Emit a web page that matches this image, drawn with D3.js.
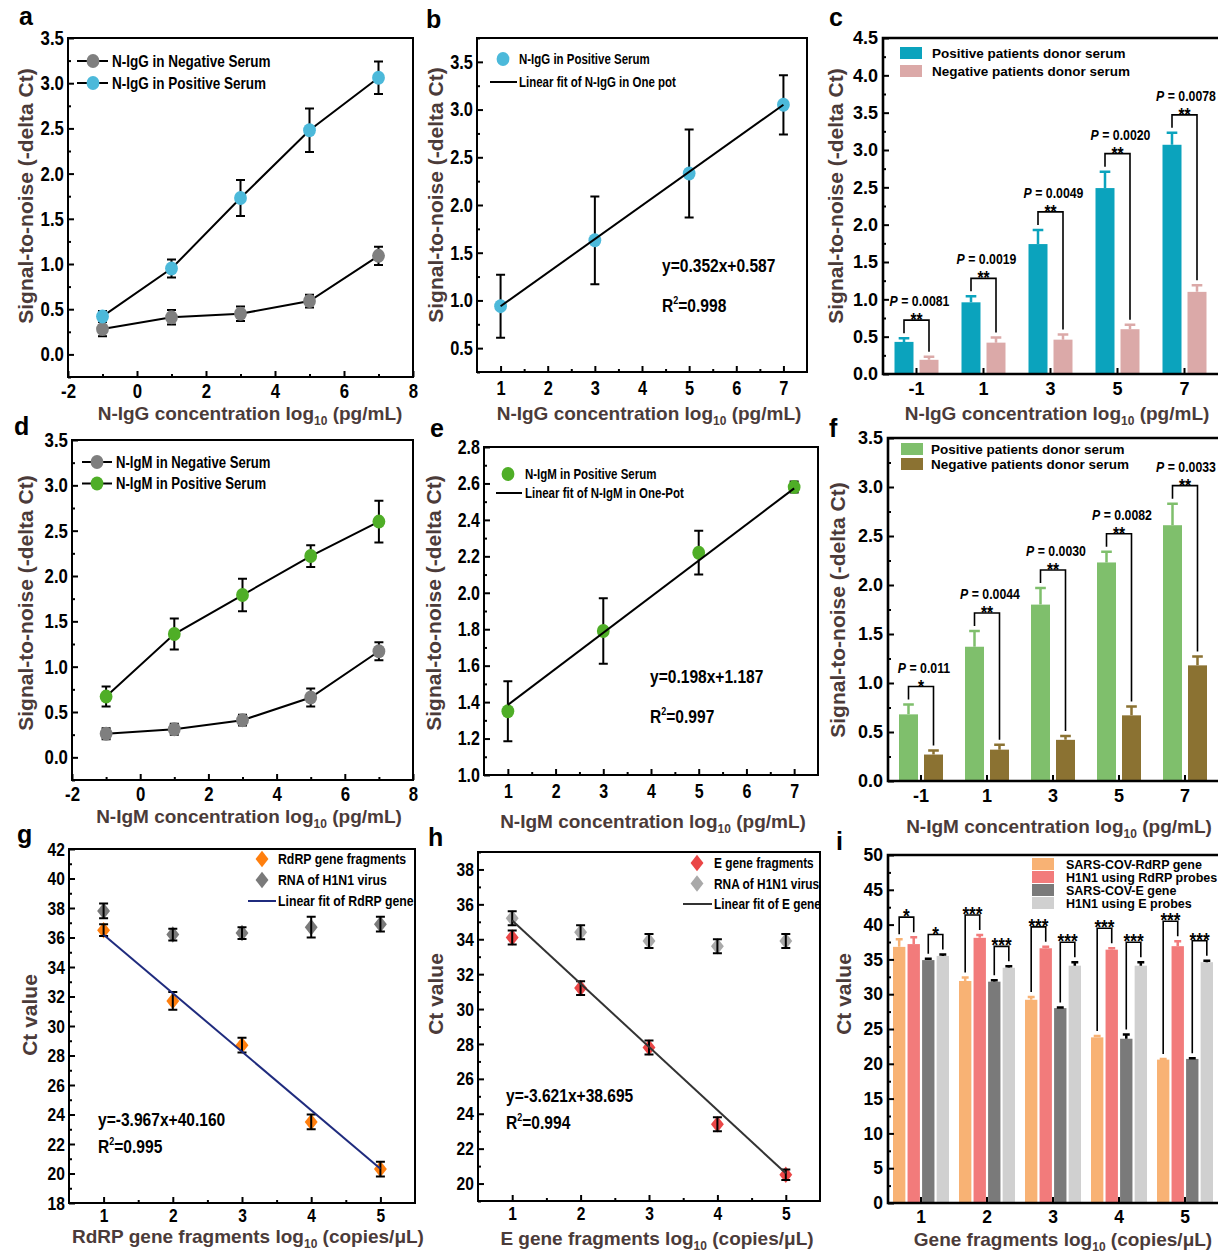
<!DOCTYPE html>
<html>
<head>
<meta charset="utf-8">
<script src="https://cdn.jsdelivr.net/npm/d3@7"></script>
<style>
  body { margin: 0; background: #fff; }
  text { font-family: "Liberation Sans", Arial, sans-serif; font-weight: bold; }
</style>
</head>
<body>
<svg id="fig" width="1218" height="1254"></svg>
<script>
// ---------- data ----------
// a / d : serum titration, -delta Ct
var igConc = [-1, 1, 3, 5, 7];
var iggNeg = [0.28, 0.41, 0.45, 0.59, 1.09];
var iggNegErr = [0.08, 0.08, 0.08, 0.07, 0.10];
var iggPos = [0.42, 0.95, 1.73, 2.48, 3.06];
var iggPosErr = [0.06, 0.10, 0.20, 0.24, 0.18];
var igmNeg = [0.26, 0.31, 0.41, 0.66, 1.17];
var igmNegErr = [0.06, 0.06, 0.06, 0.10, 0.10];
var igmPos = [0.67, 1.36, 1.79, 2.22, 2.60];
var igmPosErr = [0.11, 0.17, 0.18, 0.12, 0.23];

// b / e : linear fits
var fitConc = [1, 3, 5, 7];
var iggFitVal = [0.94, 1.63, 2.33, 3.05];
var iggFitErr = [0.33, 0.46, 0.46, 0.31];
var iggCoef = [0.352, 0.587];
var igmFitVal = [1.35, 1.79, 2.22, 2.58];
var igmFitErr = [0.165, 0.18, 0.12, 0.03];
var igmCoef = [0.198, 1.187];

// c / f : bar comparisons
var barCats = ["-1", "1", "3", "5", "7"];
var iggBarPos = [0.43, 0.96, 1.74, 2.49, 3.07];
var iggBarPosErr = [0.05, 0.08, 0.19, 0.22, 0.16];
var iggBarNeg = [0.19, 0.42, 0.46, 0.60, 1.10];
var iggBarNegErr = [0.04, 0.07, 0.07, 0.06, 0.09];
var iggP = ["0.0081", "0.0019", "0.0049", "0.0020", "0.0078"];
var iggStars = ["**", "**", "**", "**", "**"];
var igmBarPos = [0.68, 1.37, 1.80, 2.23, 2.61];
var igmBarPosErr = [0.10, 0.16, 0.17, 0.11, 0.22];
var igmBarNeg = [0.27, 0.32, 0.42, 0.67, 1.18];
var igmBarNegErr = [0.04, 0.05, 0.04, 0.09, 0.09];
var igmP = ["0.011", "0.0044", "0.0030", "0.0082", "0.0033"];
var igmStars = ["*", "**", "**", "**", "**"];

// g / h : Ct values
var geneConc = [1, 2, 3, 4, 5];
var rdrpCt = [36.5, 31.7, 28.7, 23.5, 20.3];
var rdrpErr = [0.4, 0.6, 0.5, 0.5, 0.5];
var h1n1RCt = [37.8, 36.2, 36.3, 36.7, 36.9];
var h1n1RErr = [0.5, 0.4, 0.4, 0.7, 0.5];
var rdrpCoef = [-3.967, 40.160];
var eCt = [34.1, 31.2, 27.8, 23.4, 20.5];
var eErr = [0.4, 0.4, 0.4, 0.4, 0.3];
var h1n1ECt = [35.2, 34.4, 33.9, 33.6, 33.9];
var h1n1EErr = [0.4, 0.4, 0.4, 0.4, 0.4];
var eCoef = [-3.621, 38.695];

// i : specificity bars
var geneCats = ["1", "2", "3", "4", "5"];
var iNames = ["SARS-COV-RdRP gene", "H1N1 using RdRP probes", "SARS-COV-E gene", "H1N1 using E probes"];
var iRdrp = [36.8, 31.9, 29.2, 23.8, 20.6];
var iRdrpErr = [1.1, 0.5, 0.4, 0.2, 0.1];
var iH1R = [37.2, 38.1, 36.6, 36.4, 36.9];
var iH1RErr = [1.0, 0.4, 0.2, 0.2, 0.7];
var iE = [34.9, 31.8, 28.0, 23.6, 20.7];
var iEErr = [0.2, 0.2, 0.1, 0.6, 0.1];
var iH1E = [35.5, 33.8, 34.1, 34.1, 34.6];
var iH1EErr = [0.2, 0.2, 0.5, 0.5, 0.2];
var iStarsR = ["*", "***", "***", "***", "***"];
var iStarsE = ["*", "***", "***", "***", "***"];

// tick values
var tickSN = [0, 0.5, 1.0, 1.5, 2.0, 2.5, 3.0, 3.5];
var tickSNb = [0.5, 1.0, 1.5, 2.0, 2.5, 3.0, 3.5];
var tickSNc = [0, 0.5, 1.0, 1.5, 2.0, 2.5, 3.0, 3.5, 4.0, 4.5];
var tickSNe = [1.0, 1.2, 1.4, 1.6, 1.8, 2.0, 2.2, 2.4, 2.6, 2.8];
var tickConcA = [-2, 0, 2, 4, 6, 8];
var tickConcB = [1, 2, 3, 4, 5, 6, 7];
var tickCtG = [18, 20, 22, 24, 26, 28, 30, 32, 34, 36, 38, 40, 42];
var tickCtH = [20, 22, 24, 26, 28, 30, 32, 34, 36, 38];
var tickCtI = [0, 5, 10, 15, 20, 25, 30, 35, 40, 45, 50];

// ---------- drawing ----------
var svg = d3.select("#fig");
svg.append("rect").attr("width", 1218).attr("height", 1254).attr("fill", "#fff");

var NARROW = 0.82;
var TITLE = "#4b3b39";
var f1 = function (d) { return d.toFixed(1); };
var f0 = function (d) { return String(d); };

var diamond = {
  draw: function (ctx, size) {
    var r = Math.sqrt(size);
    ctx.moveTo(0, -0.55 * r);
    ctx.lineTo(0.43 * r, 0);
    ctx.lineTo(0, 0.55 * r);
    ctx.lineTo(-0.43 * r, 0);
    ctx.closePath();
  }
};

function narrowText(g, x, y, str, size, anchor) {
  return g.append("text")
    .attr("transform", "translate(" + x + "," + y + ") scale(" + NARROW + ",1)")
    .attr("text-anchor", anchor || "start")
    .style("font-size", size + "px")
    .text(str);
}

function marker(g, cx, cy, shape, color) {
  if (shape == "diamond") {
    g.append("path").attr("transform", "translate(" + cx + "," + cy + ")")
      .attr("d", d3.symbol().type(diamond).size(225)()).attr("fill", color);
  } else {
    g.append("ellipse").attr("cx", cx).attr("cy", cy).attr("rx", 6.4).attr("ry", 7).attr("fill", color);
  }
}

function drawAxes(g, x, y, o) {
  var yMaj = g.append("g").attr("transform", "translate(" + o.x0 + ",0)")
    .call(d3.axisLeft(y).tickValues(o.yTicks).tickFormat(o.yFmt).tickSizeInner(-6).tickSizeOuter(0).tickPadding(o.yPad || 5));
  var xMaj = g.append("g").attr("transform", "translate(0," + o.y1 + ")")
    .call(d3.axisBottom(x).tickValues(o.xTicks).tickFormat(o.xFmt).tickSizeInner(-6).tickSizeOuter(0).tickPadding(o.xPad || 9));
  var all = [yMaj, xMaj];
  if (o.yMinor) all.push(g.append("g").attr("transform", "translate(" + o.x0 + ",0)")
    .call(d3.axisLeft(y).tickValues(o.yMinor).tickFormat("").tickSizeInner(-3).tickSizeOuter(0)));
  if (o.xMinor) all.push(g.append("g").attr("transform", "translate(0," + o.y1 + ")")
    .call(d3.axisBottom(x).tickValues(o.xMinor).tickFormat("").tickSizeInner(-3).tickSizeOuter(0)));
  all.forEach(function (a) {
    a.select(".domain").remove();
    a.selectAll(".tick line").attr("stroke", "#000").attr("stroke-width", 2);
  });
  [yMaj, xMaj].forEach(function (a) {
    var t = a.selectAll(".tick text").attr("fill", "#000").style("font-size", o.tickSize + "px");
    if (o.narrow) t.attr("transform", "scale(" + NARROW + ",1)");
  });
}

function titles(g, o) {
  g.append("text").attr("transform", "translate(" + o.yt[0] + "," + o.yt[1] + ") rotate(-90)")
    .attr("text-anchor", "middle").attr("fill", TITLE).style("font-size", "21px").text(o.yLabel);
  var t = g.append("text").attr("x", o.xt[0]).attr("y", o.xt[1]).attr("text-anchor", "middle")
    .attr("fill", TITLE).style("font-size", "19px");
  t.append("tspan").text(o.xLabel[0]);
  t.append("tspan").attr("dy", 5).style("font-size", "12px").text("10");
  t.append("tspan").attr("dy", -5).text(o.xLabel[1]);
  g.append("text").attr("x", o.letter[1]).attr("y", o.letter[2]).attr("fill", "#000")
    .style("font-size", "25px").text(o.letter[0]);
}

function errBars(g, xs, vals, errs, x, y, cap, color, sw) {
  vals.forEach(function (v, i) {
    var cx = x(xs[i]), lo = y(v - errs[i]), hi = y(v + errs[i]);
    g.append("path")
      .attr("d", "M" + cx + "," + lo + "V" + hi + "M" + (cx - cap) + "," + hi + "H" + (cx + cap) + "M" + (cx - cap) + "," + lo + "H" + (cx + cap))
      .attr("stroke", color).attr("stroke-width", sw).attr("fill", "none");
  });
}

function xyPanel(o) {
  var g = svg.append("g");
  var x = d3.scaleLinear().domain(o.xDom).range([o.x0, o.x1]);
  var y = d3.scaleLinear().domain(o.yDom).range([o.y1, o.y0]);
  o.narrow = true;
  drawAxes(g, x, y, o);

  o.series.forEach(function (s) {
    if (!s.line) return;
    g.append("path").datum(s.vals)
      .attr("d", d3.line().x(function (d, i) { return x(o.xs[i]); }).y(function (d) { return y(d); }))
      .attr("fill", "none").attr("stroke", "#000").attr("stroke-width", 2);
  });
  o.series.forEach(function (s) {
    if (!o.errOnTop) errBars(g, o.xs, s.vals, s.errs, x, y, 4.5, "#000", 2);
    s.vals.forEach(function (v, i) { marker(g, x(o.xs[i]), y(v), s.shape, s.color); });
    if (o.errOnTop) errBars(g, o.xs, s.vals, s.errs, x, y, 4.5, "#000", 2);
  });
  if (o.fit) {
    var f = o.fit;
    g.append("line")
      .attr("x1", x(f.from)).attr("y1", y(f.coef[0] * f.from + f.coef[1]))
      .attr("x2", x(f.to)).attr("y2", y(f.coef[0] * f.to + f.coef[1]))
      .attr("stroke", f.color).attr("stroke-width", 2);
  }

  // legend
  var L = o.legend;
  L.items.forEach(function (it, k) {
    var ly = L.y + k * L.dy;
    if (it.line) {
      g.append("line").attr("x1", L.lx0).attr("x2", L.lx1).attr("y1", ly).attr("y2", ly)
        .attr("stroke", it.lineColor || "#000").attr("stroke-width", 2);
    }
    if (it.shape) marker(g, L.mx, ly, it.shape, it.color);
    narrowText(g, L.tx, ly + L.size * 0.36, it.label, L.size);
  });

  if (o.eq) {
    narrowText(g, o.eq.x, o.eq.y1, o.eq.text, 19);
    var r = narrowText(g, o.eq.x, o.eq.y2, "R", 19);
    r.append("tspan").attr("dy", -8).style("font-size", "11px").text("2");
    r.append("tspan").attr("dy", 8).text("=" + o.eq.r2);
  }

  g.append("rect").attr("x", o.x0).attr("y", o.y0).attr("width", o.x1 - o.x0).attr("height", o.y1 - o.y0)
    .attr("fill", "none").attr("stroke", "#000").attr("stroke-width", 2);
  titles(g, o);
}

function barPanel(o) {
  var g = svg.append("g");
  var x = d3.scaleBand().domain(o.cats).range([o.x0, 1218]);
  var inner = d3.scaleBand().domain(d3.range(o.series.length))
    .range([-o.groupW / 2, o.groupW / 2]).paddingInner(o.pad);
  var y = d3.scaleLinear().domain(o.yDom).range([o.y1, o.y0]);
  var bw = inner.bandwidth();
  function bx(i, si) { return x(o.cats[i]) + x.bandwidth() / 2 + inner(si); }

  o.series.forEach(function (s, si) {
    g.selectAll(null).data(s.vals).enter().append("rect")
      .attr("x", function (d, i) { return bx(i, si); })
      .attr("width", bw)
      .attr("y", function (d) { return y(d); })
      .attr("height", function (d) { return y(0) - y(d); })
      .attr("fill", s.color);
    s.vals.forEach(function (v, i) {
      var cx = bx(i, si) + bw / 2, top = y(v + s.errs[i]);
      g.append("path").attr("d", "M" + cx + "," + y(v) + "V" + top + "M" + (cx - bw * 0.28) + "," + top + "H" + (cx + bw * 0.28))
        .attr("stroke", s.errColor || s.color).attr("stroke-width", 2.5).attr("fill", "none");
    });
  });

  o.tickSize = o.tickSize || 18;
  o.xTicks = o.cats;
  o.xFmt = f0;
  o.xPad = 8;
  drawAxes(g, x, y, o);

  // significance brackets
  o.pairs.forEach(function (pr) {
    var A = o.series[pr.a], B = o.series[pr.b];
    o.cats.forEach(function (c, i) {
      var ax = bx(i, pr.a) + bw / 2, bxx = bx(i, pr.b) + bw / 2;
      var ta = y(A.vals[i] + A.errs[i]), tb = y(B.vals[i] + B.errs[i]);
      var by = Math.min(ta, tb) - o.brOff;
      g.append("path").attr("d", "M" + ax + "," + (ta - 5) + "V" + by + "H" + bxx + "V" + (tb - 5))
        .attr("stroke", "#000").attr("stroke-width", 1.6).attr("fill", "none");
      var mid = (ax + bxx) / 2;
      narrowText(g, mid, by + 6, pr.stars[i], o.starSize || 19, "middle");
      if (pr.p) {
        var t = narrowText(g, Math.min(mid + 3, 1186), by - 14, "", 15, "middle");
        t.append("tspan").style("font-style", "italic").text("P");
        t.append("tspan").text(" = " + pr.p[i]);
      }
    });
  });

  // legend
  var L = o.legend;
  o.series.forEach(function (s, k) {
    var ly = L.y + k * L.dy;
    g.append("rect").attr("x", L.x).attr("y", ly - L.h / 2).attr("width", 22).attr("height", L.h).attr("fill", s.color);
    g.append("text").attr("x", L.tx).attr("y", ly + L.size * 0.36).style("font-size", L.size + "px").text(s.name);
  });

  g.append("path").attr("d", "M1225," + o.y0 + "H" + o.x0 + "V" + o.y1 + "H1225")
    .attr("fill", "none").attr("stroke", "#000").attr("stroke-width", 2.6);
  titles(g, o);
}

function minors(a, b, step, skip) {
  return d3.range(a, b + 1e-9, step).filter(function (v) {
    return Math.abs(v / skip - Math.round(v / skip)) > 1e-6;
  });
}

// a
xyPanel({
  x0: 68, x1: 413, y0: 38, y1: 377, xDom: [-2, 8], yDom: [-0.25, 3.5], tickSize: 20.5, xPad: 6,
  xTicks: tickConcA, xMinor: minors(-1, 7, 1, 2), yTicks: tickSN, yMinor: minors(-0.25, 3.25, 0.25, 0.5),
  xFmt: f0, yFmt: f1, xs: igConc,
  series: [
    { vals: iggNeg, errs: iggNegErr, color: "#7f7f7f", shape: "circle", line: true },
    { vals: iggPos, errs: iggPosErr, color: "#4cb9da", shape: "circle", line: true }
  ],
  legend: { lx0: 77, lx1: 108, mx: 93, tx: 112, y: 61, dy: 22, size: 16.5, items: [
    { line: true, shape: "circle", color: "#7f7f7f", label: "N-IgG in Negative Serum" },
    { line: true, shape: "circle", color: "#4cb9da", label: "N-IgG in Positive Serum" }] },
  yLabel: "Signal-to-noise (-delta Ct)", yt: [33, 196],
  xLabel: ["N-IgG concentration log", " (pg/mL)"], xt: [250, 420], letter: ["a", 19, 25]
});

// b
xyPanel({
  x0: 477, x1: 807, y0: 38, y1: 372, xDom: [0.5, 7.5], yDom: [0.25, 3.75], tickSize: 20,
  xTicks: tickConcB, xMinor: minors(1.5, 6.5, 0.5, 1), yTicks: tickSNb, yMinor: minors(0.25, 3.75, 0.25, 0.5),
  xFmt: f0, yFmt: f1, xs: fitConc,
  series: [{ vals: iggFitVal, errs: iggFitErr, color: "#4cb9da", shape: "circle" }],
  fit: { coef: iggCoef, from: 1, to: 7, color: "#000" },
  legend: { lx0: 490, lx1: 517, mx: 503, tx: 519, y: 59, dy: 23, size: 14, items: [
    { shape: "circle", color: "#4cb9da", label: "N-IgG in Positive Serum" },
    { line: true, label: "Linear fit of N-IgG in One pot" }] },
  eq: { x: 662, y1: 272, y2: 312, text: "y=0.352x+0.587", r2: "0.998" },
  yLabel: "Signal-to-noise (-delta Ct)", yt: [443, 195],
  xLabel: ["N-IgG concentration log", " (pg/mL)"], xt: [649, 420], letter: ["b", 426, 28]
});

// c
barPanel({
  x0: 883, y0: 38, y1: 374, yDom: [0, 4.5], yTicks: tickSNc, yMinor: minors(0.25, 4.25, 0.25, 0.5), yFmt: f1,
  cats: barCats, groupW: 44, pad: 0.24,
  series: [
    { name: "Positive patients donor serum", vals: iggBarPos, errs: iggBarPosErr, color: "#0ba3bd" },
    { name: "Negative patients donor serum", vals: iggBarNeg, errs: iggBarNegErr, color: "#dba9a8" }
  ],
  pairs: [{ a: 0, b: 1, stars: iggStars, p: iggP }], brOff: 18,
  legend: { x: 900, tx: 932, y: 53, dy: 18, h: 12, size: 13.5 },
  yLabel: "Signal-to-noise (-delta Ct)", yt: [843, 196],
  xLabel: ["N-IgG concentration log", " (pg/mL)"], xt: [1057, 420], letter: ["c", 829, 26]
});

// d
xyPanel({
  x0: 72, x1: 413, y0: 440, y1: 780, xDom: [-2, 8], yDom: [-0.25, 3.5], tickSize: 20.5, xPad: 6,
  xTicks: tickConcA, xMinor: minors(-1, 7, 1, 2), yTicks: tickSN, yMinor: minors(-0.25, 3.25, 0.25, 0.5),
  xFmt: f0, yFmt: f1, xs: igConc,
  series: [
    { vals: igmNeg, errs: igmNegErr, color: "#7f7f7f", shape: "circle", line: true },
    { vals: igmPos, errs: igmPosErr, color: "#4fae27", shape: "circle", line: true }
  ],
  legend: { lx0: 82, lx1: 112, mx: 97, tx: 116, y: 462, dy: 21.5, size: 16, items: [
    { line: true, shape: "circle", color: "#7f7f7f", label: "N-IgM in Negative Serum" },
    { line: true, shape: "circle", color: "#4fae27", label: "N-IgM in Positive Serum" }] },
  yLabel: "Signal-to-noise (-delta Ct)", yt: [33, 603],
  xLabel: ["N-IgM concentration log", " (pg/mL)"], xt: [249, 823], letter: ["d", 14, 435]
});

// e
xyPanel({
  x0: 484, x1: 818, y0: 447, y1: 775, xDom: [0.5, 7.5], yDom: [1.0, 2.8], tickSize: 19.5,
  xTicks: tickConcB, xMinor: minors(1.5, 6.5, 0.5, 1), yTicks: tickSNe, yMinor: minors(1.1, 2.7, 0.1, 0.2),
  xFmt: f0, yFmt: f1, xs: fitConc,
  series: [{ vals: igmFitVal, errs: igmFitErr, color: "#4fae27", shape: "circle" }],
  fit: { coef: igmCoef, from: 1, to: 7, color: "#000" },
  legend: { lx0: 496, lx1: 522, mx: 508, tx: 525, y: 474, dy: 19, size: 14, items: [
    { shape: "circle", color: "#4fae27", label: "N-IgM in Positive Serum" },
    { line: true, label: "Linear fit of N-IgM in One-Pot" }] },
  eq: { x: 650, y1: 683, y2: 723, text: "y=0.198x+1.187", r2: "0.997" },
  yLabel: "Signal-to-noise (-delta Ct)", yt: [441, 603],
  xLabel: ["N-IgM concentration log", " (pg/mL)"], xt: [653, 828], letter: ["e", 430, 437]
});

// f
barPanel({
  x0: 888, y0: 438, y1: 781, yDom: [0, 3.5], yTicks: tickSN, yMinor: minors(0.25, 3.25, 0.25, 0.5), yFmt: f1,
  cats: barCats, groupW: 44, pad: 0.24,
  series: [
    { name: "Positive patients donor serum", vals: igmBarPos, errs: igmBarPosErr, color: "#7fbf6c" },
    { name: "Negative patients donor serum", vals: igmBarNeg, errs: igmBarNegErr, color: "#8b7232" }
  ],
  pairs: [{ a: 0, b: 1, stars: igmStars, p: igmP }], brOff: 18,
  legend: { x: 901, tx: 931, y: 449, dy: 15, h: 12, size: 13.5 },
  yLabel: "Signal-to-noise (-delta Ct)", yt: [845, 610],
  xLabel: ["N-IgM concentration log", " (pg/mL)"], xt: [1059, 833], letter: ["f", 829, 437]
});

// g
xyPanel({
  x0: 69, x1: 415, y0: 849, y1: 1203, xDom: [0.5, 5.5], yDom: [18, 42], tickSize: 19, xPad: 6,
  xTicks: geneConc, xMinor: minors(1.5, 5, 0.5, 1), yTicks: tickCtG, yMinor: minors(19, 41, 1, 2),
  xFmt: f0, yFmt: f0, xs: geneConc, errOnTop: true,
  series: [
    { vals: h1n1RCt, errs: h1n1RErr, color: "#7a7a7a", shape: "diamond" },
    { vals: rdrpCt, errs: rdrpErr, color: "#ff7f0e", shape: "diamond" }
  ],
  fit: { coef: rdrpCoef, from: 1, to: 5, color: "#1f2b7e" },
  legend: { lx0: 248, lx1: 276, mx: 262, tx: 278, y: 859, dy: 21, size: 15, items: [
    { shape: "diamond", color: "#ff7f0e", label: "RdRP gene fragments" },
    { shape: "diamond", color: "#7a7a7a", label: "RNA of H1N1 virus" },
    { line: true, lineColor: "#1f2b7e", label: "Linear fit of RdRP gene" }] },
  eq: { x: 98, y1: 1126, y2: 1153, text: "y=-3.967x+40.160", r2: "0.995" },
  yLabel: "Ct value", yt: [37, 1015],
  xLabel: ["RdRP gene fragments log", " (copies/\u03bcL)"], xt: [248, 1243], letter: ["g", 17, 843]
});

// h
xyPanel({
  x0: 478, x1: 820, y0: 852, y1: 1201, xDom: [0.5, 5.5], yDom: [19, 39], tickSize: 19, xPad: 6,
  xTicks: geneConc, xMinor: minors(1.5, 5, 0.5, 1), yTicks: tickCtH, yMinor: minors(19, 39, 1, 2),
  xFmt: f0, yFmt: f0, xs: geneConc, errOnTop: true,
  series: [
    { vals: h1n1ECt, errs: h1n1EErr, color: "#a9a9a9", shape: "diamond" },
    { vals: eCt, errs: eErr, color: "#ea4646", shape: "diamond" }
  ],
  fit: { coef: eCoef, from: 1, to: 5, color: "#333" },
  legend: { lx0: 683, lx1: 712, mx: 697, tx: 714, y: 863, dy: 20.5, size: 14.5, items: [
    { shape: "diamond", color: "#ea4646", label: "E gene fragments" },
    { shape: "diamond", color: "#a9a9a9", label: "RNA of H1N1 virus" },
    { line: true, lineColor: "#333", label: "Linear fit of E gene" }] },
  eq: { x: 506, y1: 1102, y2: 1129, text: "y=-3.621x+38.695", r2: "0.994" },
  yLabel: "Ct value", yt: [443, 994],
  xLabel: ["E gene fragments log", " (copies/\u03bcL)"], xt: [657, 1245], letter: ["h", 428, 846]
});

// i
barPanel({
  x0: 888, y0: 855, y1: 1203, yDom: [0, 50], yTicks: tickCtI, yMinor: minors(2.5, 47.5, 2.5, 5), yFmt: f0,
  cats: geneCats, groupW: 56, pad: 0.15, tickSize: 17.5,
  series: [
    { name: iNames[0], vals: iRdrp, errs: iRdrpErr, color: "#f8b274" },
    { name: iNames[1], vals: iH1R, errs: iH1RErr, color: "#f27b7b" },
    { name: iNames[2], vals: iE, errs: iEErr, color: "#7a7a7a", errColor: "#000" },
    { name: iNames[3], vals: iH1E, errs: iH1EErr, color: "#d0d0d0", errColor: "#000" }
  ],
  pairs: [{ a: 0, b: 1, stars: iStarsR }, { a: 2, b: 3, stars: iStarsE }], brOff: 20, starSize: 21,
  legend: { x: 1032, tx: 1066, y: 864, dy: 13, h: 12, size: 12.5 },
  yLabel: "Ct value", yt: [851, 994],
  xLabel: ["Gene fragments log", " (copies/\u03bcL)"], xt: [1063, 1246], letter: ["i", 836, 850]
});
</script>
</body>
</html>
